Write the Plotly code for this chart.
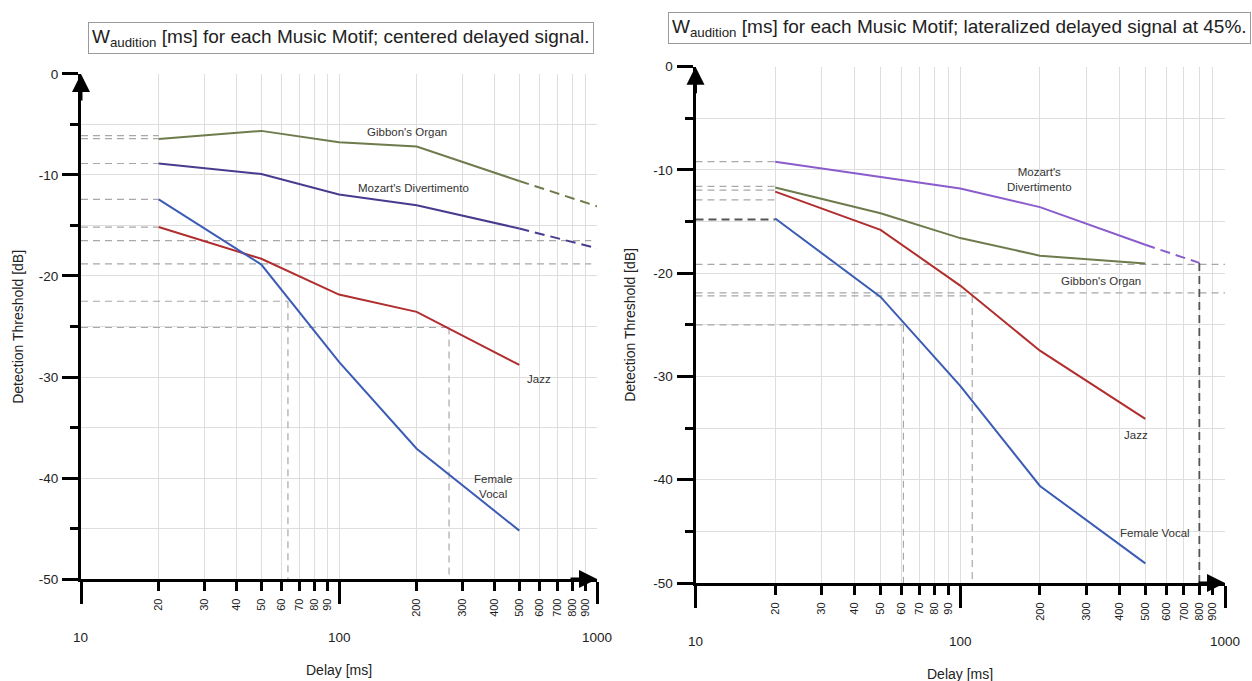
import math
import plotly.graph_objects as go

# ---------------- data ----------------
delays = [20, 50, 100, 200, 500]

# Left panel: centered delayed signal
left_gibbons = [-6.45, -5.64, -6.77, -7.19, -10.6]
left_mozart = [-8.87, -9.9, -11.93, -13.0, -15.3]
left_jazz = [-15.16, -18.3, -21.84, -23.55, -28.8]
left_female = [-12.42, -18.87, -28.5, -37.1, -45.2]
left_ext_delays = [500, 1000]
left_gibbons_ext = [-10.6, -13.1]
left_mozart_ext = [-15.3, -17.26]

left_ref_levels = [-6.1, -6.4, -8.87, -12.42, -15.16, -16.5, -18.8, -22.5, -25.1]
left_ref_ends = [20, 20, 20, 20, 20, 950, 950, 63.4, 267]
left_vert_x = [63.4, 267]
left_vert_top = [-22.5, -25.1]

# Right panel: lateralized delayed signal at 45%
right_mozart = [-9.2, -10.7, -11.8, -13.6, -17.25]
right_gibbons = [-11.7, -14.2, -16.6, -18.3, -19.05]
right_jazz = [-12.1, -15.8, -21.2, -27.5, -34.1]
right_female = [-14.7, -22.3, -30.9, -40.6, -48.1]
right_ext_delays = [500, 800]
right_mozart_ext = [-17.25, -19.0]

right_ref_levels = [-9.2, -11.6, -11.95, -12.9, -19.15, -21.9, -22.2, -25.0]
right_ref_ends = [20, 20, 20, 20, 1000, 1000, 111, 61]
right_dark_level = -14.8
right_dark_end = 20
right_vert_x = [61, 111]
right_vert_top = [-25.0, -22.2]
right_dark_vert_x = 800
right_dark_vert_top = -19.0

minor_ticks = [20, 30, 40, 50, 60, 70, 80, 90, 200, 300, 400, 500, 600, 700, 800, 900]
decade_ticks = [10, 100, 1000]
y_major = [0, -10, -20, -30, -40, -50]
y_minor = [-5, -15, -25, -35, -45]

# label positions (delay, dB)
left_labels = [("Gibbon's Organ", 184, -5.77), ("Mozart's Divertimento", 194, -11.29),
               ("Jazz", 595, -30.16), ("Female<br>Vocal", 395, -40.8)]
right_labels = [("Mozart's<br>Divertimento", 199, -10.97), ("Gibbon's Organ", 341, -20.72),
                ("Jazz", 462, -35.67), ("Female Vocal", 546, -45.13)]

# ---------------- styles ----------------
FONT = "Liberation Sans, Arial, sans-serif"
C_GREEN = "#6e7b4c"
C_MOZ_L = "#4a3a8e"
C_MOZ_R = "#8a5ccc"
C_RED = "#b02e2e"
C_BLUE = "#3a5cb4"
C_REF = "#a8a8a8"
C_GRID = "#dedede"

fig = go.Figure()


def line(x, y, color, xa, ya, dash="solid", width=2):
    fig.add_trace(go.Scatter(x=x, y=y, mode="lines", xaxis=xa, yaxis=ya,
                             line=dict(color=color, width=width, dash=dash),
                             hoverinfo="skip", showlegend=False))


def refs(levels, ends, vx, vtop, xa, ya):
    xs, ys = [], []
    for lv, e in zip(levels, ends):
        xs += [10, e, None]
        ys += [lv, lv, None]
    for x, t in zip(vx, vtop):
        xs += [x, x, None]
        ys += [t, -50, None]
    line(xs, ys, C_REF, xa, ya, dash="7px,5px", width=1.2)


# reference lines first
refs(left_ref_levels, left_ref_ends, left_vert_x, left_vert_top, "x", "y")
refs(right_ref_levels, right_ref_ends, right_vert_x, right_vert_top, "x2", "y2")
line([10, right_dark_end, None, right_dark_vert_x, right_dark_vert_x],
     [right_dark_level, right_dark_level, None, right_dark_vert_top, -50],
     "#555555", "x2", "y2", dash="8px,5px", width=1.8)

# left series
line(delays, left_gibbons, C_GREEN, "x", "y")
line(left_ext_delays, left_gibbons_ext, C_GREEN, "x", "y", dash="10px,6px")
line(delays, left_mozart, C_MOZ_L, "x", "y")
line(left_ext_delays, left_mozart_ext, C_MOZ_L, "x", "y", dash="10px,6px")
line(delays, left_jazz, C_RED, "x", "y")
line(delays, left_female, C_BLUE, "x", "y")

# right series
line(delays, right_mozart, C_MOZ_R, "x2", "y2")
line(right_ext_delays, right_mozart_ext, C_MOZ_R, "x2", "y2", dash="10px,6px")
line(delays, right_gibbons, C_GREEN, "x2", "y2")
line(delays, right_jazz, C_RED, "x2", "y2")
line(delays, right_female, C_BLUE, "x2", "y2")


def xaxis(domain, anchor):
    return dict(type="log", range=[1, 3], domain=domain, anchor=anchor,
                tickmode="array", tickvals=minor_ticks, ticktext=[str(v) for v in minor_ticks],
                tickangle=-90, ticks="outside", ticklen=9, tickwidth=3, tickcolor="black",
                ticklabelstandoff=3,
                tickfont=dict(family=FONT, size=11, color="#222"),
                showline=True, linewidth=3, linecolor="black",
                showgrid=True, gridcolor=C_GRID, gridwidth=1, zeroline=False,
                minor=dict(tickmode="array", tickvals=decade_ticks, ticks="outside",
                           ticklen=22, tickwidth=3, tickcolor="black",
                           showgrid=True, gridcolor=C_GRID, gridwidth=1),
                fixedrange=True)


def yaxis(domain, anchor):
    return dict(range=[-50, 0], domain=domain, anchor=anchor,
                tickmode="array", tickvals=y_major, ticktext=[str(v) for v in y_major],
                ticks="outside", ticklen=16, tickwidth=3, tickcolor="black",
                ticklabelstandoff=1,
                tickfont=dict(family=FONT, size=13.5, color="#222"),
                showline=True, linewidth=3, linecolor="black",
                showgrid=True, gridcolor=C_GRID, gridwidth=1, zeroline=False,
                minor=dict(tickmode="array", tickvals=y_minor, ticks="outside",
                           ticklen=8, tickwidth=3, tickcolor="black",
                           showgrid=True, gridcolor=C_GRID, gridwidth=1),
                fixedrange=True)


ann = []
for xr, yr, labels in (("x", "y", left_labels), ("x2", "y2", right_labels)):
    for txt, dx, dy in labels:
        ann.append(dict(x=math.log10(dx), y=dy, xref=xr, yref=yr, text=txt, showarrow=False,
                        font=dict(family=FONT, size=11.5, color="#333")))
    # axis arrows
    ann.append(dict(x=1, y=0, xref=xr, yref=yr, ax=0, ay=28, text="", showarrow=True,
                    arrowhead=2, arrowsize=1.2, arrowwidth=3, arrowcolor="black"))
    ann.append(dict(x=3, y=-50, xref=xr, yref=yr, ax=-28, ay=0, text="", showarrow=True,
                    arrowhead=2, arrowsize=1.2, arrowwidth=3, arrowcolor="black"))
    for d in decade_ticks:
        ann.append(dict(x=math.log10(d), y=-50, xref=xr, yref=yr, text=str(d), showarrow=False,
                        yshift=-58, font=dict(family=FONT, size=13.5, color="#222")))
    ann.append(dict(x=2, y=-50, xref=xr, yref=yr, text="Delay [ms]", showarrow=False,
                    yshift=-91, font=dict(family=FONT, size=14, color="#222")))

ann.append(dict(x=18 / 1252, y=1 - 327 / 681, xref="paper", yref="paper", textangle=-90,
                xanchor="center", yanchor="middle",
                text="Detection Threshold [dB]", showarrow=False,
                font=dict(family=FONT, size=14, color="#222")))
ann.append(dict(x=630 / 1252, y=1 - 325 / 681, xref="paper", yref="paper", textangle=-90,
                xanchor="center", yanchor="middle",
                text="Detection Threshold [dB]", showarrow=False,
                font=dict(family=FONT, size=14, color="#222")))

ann.append(dict(x=88 / 1252, y=1 - 32 / 681, xref="paper", yref="paper",
                xanchor="left", yanchor="middle",
                text="W<sub>audition</sub> [ms] for each Music Motif; centered delayed signal.",
                showarrow=False, bordercolor="#9a9a9a", borderwidth=1, borderpad=3,
                bgcolor="white", font=dict(family=FONT, size=19, color="#222")))
ann.append(dict(x=1251 / 1252, y=1 - 21 / 681, xref="paper", yref="paper",
                xanchor="right", yanchor="middle",
                text="W<sub>audition</sub> [ms] for each Music Motif; lateralized delayed signal at 45%.",
                showarrow=False, bordercolor="#9a9a9a", borderwidth=1, borderpad=3,
                bgcolor="white", font=dict(family=FONT, size=19, color="#222")))

fig.update_layout(
    width=1252, height=681, margin=dict(l=0, r=0, t=0, b=0),
    paper_bgcolor="white", plot_bgcolor="white", showlegend=False,
    xaxis=xaxis([81 / 1252, 597 / 1252], "y"),
    yaxis=yaxis([1 - 585 / 681, 1 - 68.4 / 681], "x"),
    xaxis2=xaxis([695.5 / 1252, 1225 / 1252], "y2"),
    yaxis2=yaxis([1 - 589 / 681, 1 - 61 / 681], "x2"),
    annotations=ann,
)

fig.write_html("out.html")
